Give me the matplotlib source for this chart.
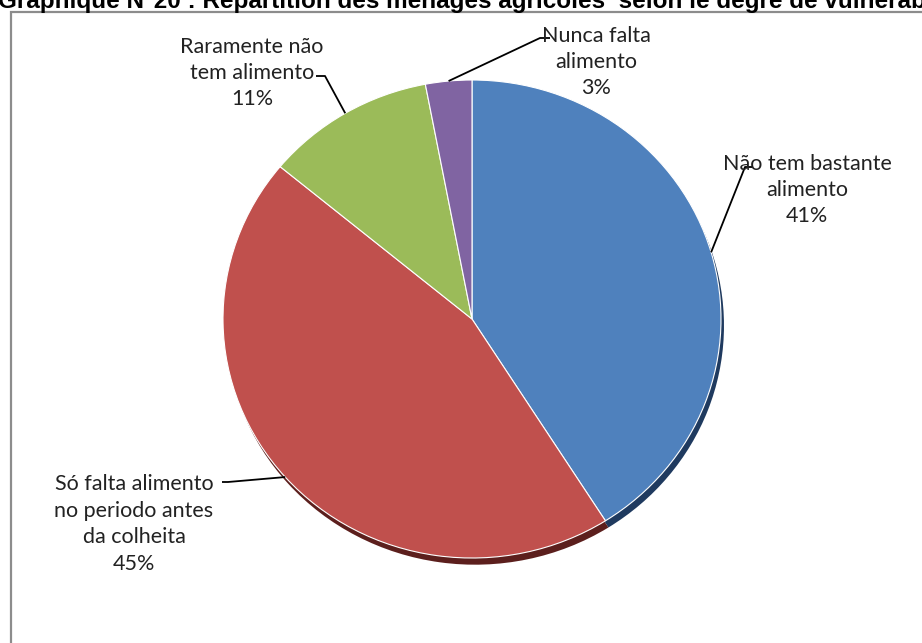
import matplotlib.pyplot as plt
import matplotlib.patches as mpatches
import numpy as np

# data
categories = ["Não tem bastante\nalimento", "Só falta alimento\nno periodo antes\nda colheita",
              "Raramente não\ntem alimento", "Nunca falta\nalimento"]
shares = [41, 45, 11, 3]
colors = ["#4F81BD", "#C0504D", "#9BBB59", "#8064A2"]
shadow_colors = ["#1F3A5F", "#5C1F1D", "#4B5E26", "#3E2F52"]
title = "Graphique N°20 : Répartition des ménages agricoles  selon le degré de vulnérabilité alimentaire"

W, H = 922, 643
fig = plt.figure(figsize=(W / 100, H / 100), dpi=100)
fig.patch.set_facecolor("white")

# pie centre and radii in pixels (slightly flattened, like the original)
cx, cy, rx, ry = 472, 319, 249, 239
ax = fig.add_axes([0, 0, 1, 1])
ax.axis("off")

# soft shadow
ax.pie(shares, colors=shadow_colors, startangle=90, counterclock=False,
       radius=1.0, center=(0.012, -0.028), wedgeprops=dict(linewidth=0))
wedges, _ = ax.pie(shares, colors=colors, startangle=90, counterclock=False,
                   radius=1.0, wedgeprops=dict(edgecolor="white", linewidth=0.8))
ax.set_aspect("auto")
ax.set_xlim((0 - cx) / rx, (W - cx) / rx)
ax.set_ylim((cy - H) / ry, (cy - 0) / ry)

def px(x, y):
    return ((x - cx) / rx, (cy - y) / ry)

# label text anchors (pixels) and leader elbow points (pixels)
label_pos = [(807, 190), (134, 524), (252, 73), (596, 62)]
elbows = [[(752, 167), (745, 167)], [(222, 482), (228, 482)],
          [(316, 76), (325, 76)], [(550, 38), (540, 38)]]

fnt = "Lato"
for w, lab, share, pos, elb in zip(wedges, categories, shares, label_pos, elbows):
    ang = np.deg2rad((w.theta1 + w.theta2) / 2)
    p0 = (np.cos(ang), np.sin(ang))
    pts = [p0] + [px(*e) for e in elb[::-1]]
    xs = [p[0] for p in pts]
    ys = [p[1] for p in pts]
    ax.plot(xs, ys, color="black", lw=1.3, solid_capstyle="butt", clip_on=False)
    ax.text(*px(*pos), lab + "\n" + f"{share}%", ha="center", va="center",
            fontsize=15.5, family=fnt, color="#222222", linespacing=1.4)

# border of chart area
fig.add_artist(mpatches.Rectangle((11 / W, -0.05), 1.1, (H - 12) / H + 0.05,
                                  transform=fig.transFigure, fill=False,
                                  edgecolor="#8c8c8c", linewidth=1.6))

fig.text(-0.002, 1 - 8 / H, title, fontsize=17.5, fontweight="bold",
         family="Liberation Sans", va="baseline", ha="left")

fig.savefig("out.png", dpi=100)
